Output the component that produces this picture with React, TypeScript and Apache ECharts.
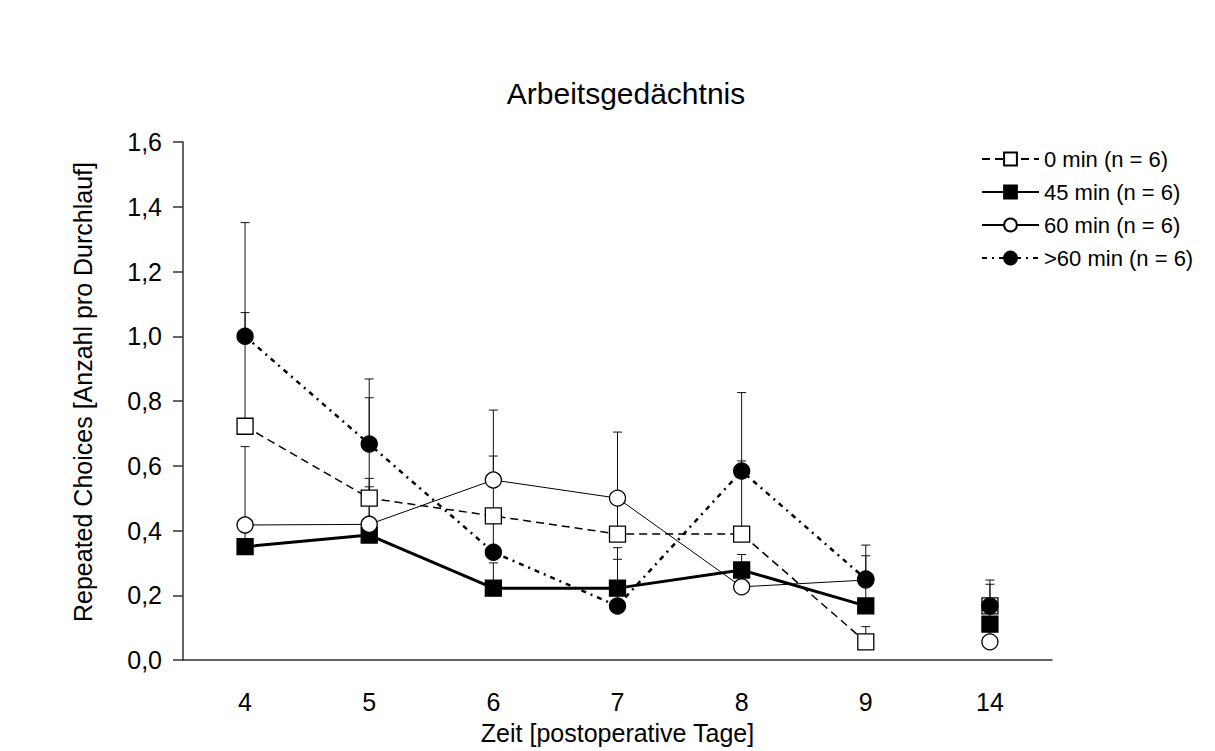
import React, { useEffect, useRef } from "react";
import * as echarts from "echarts";

const days = ["4", "5", "6", "7", "8", "9", "14"];
const yTicks = [0, 0.2, 0.4, 0.6, 0.8, 1.0, 1.2, 1.4, 1.6];

const names = ["0 min (n = 6)", "45 min (n = 6)", "60 min (n = 6)", ">60 min (n = 6)"];

const min0 = [0.722, 0.5, 0.445, 0.389, 0.389, 0.056, 0.167];
const min45 = [0.35, 0.386, 0.222, 0.222, 0.278, 0.167, 0.111];
const min60 = [0.417, 0.419, 0.556, 0.5, 0.226, 0.247, 0.056];
const min60plus = [1.0, 0.667, 0.333, 0.167, 0.584, 0.25, 0.167];

const sem0 = [0.351, 0.31, 0.185, 0.091, 0.226, 0.047, 0.08];
const sem45 = [0.07, 0.149, 0.078, 0.089, 0.048, 0.073, 0.039];
const sem60 = [0.242, 0.142, 0.216, 0.204, 0.044, 0.075, 0.044];
const sem60plus = [0.351, 0.201, 0.097, 0.18, 0.242, 0.105, 0.067];

const FONT = "'Liberation Sans', Arial, Helvetica, sans-serif";

export default function App() {
  const ref = useRef<HTMLDivElement>(null);

  useEffect(() => {
    if (!ref.current) return;
    const chart = echarts.init(ref.current, null, { renderer: "svg" });

    const groups = [
      { name: names[0], values: min0, sem: sem0, symbol: "rect", filled: false, line: { width: 1.5, type: [8, 5] } },
      { name: names[1], values: min45, sem: sem45, symbol: "rect", filled: true, line: { width: 3, type: "solid" } },
      { name: names[2], values: min60, sem: sem60, symbol: "circle", filled: false, line: { width: 1, type: "solid" } },
      { name: names[3], values: min60plus, sem: sem60plus, symbol: "circle", filled: true, line: { width: 2.5, type: [5, 5, 2, 5] } },
    ];

    const errData: number[][] = [];
    groups.forEach((g) => g.values.forEach((v, i) => errData.push([i, v, g.sem[i]])));

    const series: any[] = [
      {
        type: "custom",
        name: "err",
        data: errData,
        encode: { x: 0, y: 1 },
        z: 1,
        silent: true,
        renderItem: (_p: any, api: any) => {
          const x = api.value(0);
          const m = api.value(1);
          const s = api.value(2);
          const p0 = api.coord([x, m]);
          const p1 = api.coord([x, m + s]);
          const w = 4.5;
          return {
            type: "group",
            children: [
              { type: "line", shape: { x1: p0[0], y1: p0[1], x2: p1[0], y2: p1[1] }, style: { stroke: "#111", lineWidth: 1 } },
              { type: "line", shape: { x1: p1[0] - w, y1: p1[1], x2: p1[0] + w, y2: p1[1] }, style: { stroke: "#111", lineWidth: 1 } },
            ],
          };
        },
      },
    ];

    groups.forEach((g) => {
      const itemStyle = { color: g.filled ? "#000" : "#fff", borderColor: "#000", borderWidth: 1.3, opacity: 1 };
      series.push({
        type: "line",
        name: g.name,
        data: g.values.slice(0, 6),
        symbol: g.symbol,
        symbolSize: 16,
        showAllSymbol: true,
        itemStyle,
        lineStyle: { color: "#000", width: g.line.width, type: g.line.type },
        z: 3,
      });
      series.push({
        type: "scatter",
        name: g.name + " (14)",
        data: g.values.map((v, i) => (i === 6 ? v : "-")),
        symbol: g.symbol,
        symbolSize: 16,
        itemStyle,
        z: 3,
      });
    });

    chart.setOption({
      animation: false,
      backgroundColor: "#ffffff",
      textStyle: { fontFamily: FONT },
      grid: { left: 183, right: 163, top: 142, bottom: 91, containLabel: false },
      legend: {
        data: names,
        orient: "vertical",
        left: 976,
        top: 143,
        itemWidth: 57,
        itemHeight: 16,
        itemGap: 11,
        textStyle: { fontSize: 22, color: "#000", fontFamily: FONT },
        selectedMode: false,
      },
      xAxis: {
        type: "category",
        data: days,
        boundaryGap: true,
        axisTick: { show: false },
        axisLine: { lineStyle: { color: "#333", width: 1.5 } },
        axisLabel: { fontSize: 25, color: "#000", margin: 29, fontFamily: FONT },
        name: "Zeit [postoperative Tage]",
        nameLocation: "middle",
        nameGap: 60,
        nameTextStyle: { fontSize: 25, color: "#000", fontFamily: FONT },
        splitLine: { show: false },
      },
      yAxis: {
        type: "value",
        min: 0,
        max: 1.6,
        interval: 0.2,
        axisLine: { show: true, lineStyle: { color: "#333", width: 1.5 } },
        axisTick: { show: true, length: 10, lineStyle: { color: "#333", width: 1.5 } },
        axisLabel: {
          fontSize: 25,
          color: "#000",
          margin: 21,
          fontFamily: FONT,
          formatter: (v: number) => {
            const t = yTicks.find((k) => Math.abs(k - v) < 1e-6);
            return (t !== undefined ? t : v).toFixed(1).replace(".", ",");
          },
        },
        splitLine: { show: false },
      },
      graphic: [
        {
          type: "text",
          x: 626,
          y: 93,
          style: { text: "Arbeitsgedächtnis", x: 0, y: 0, textAlign: "center", textVerticalAlign: "middle", font: `30px ${FONT}`, fill: "#000" },
        },
        {
          type: "text",
          x: 83,
          y: 392,
          rotation: Math.PI / 2,
          style: {
            text: "Repeated Choices [Anzahl pro Durchlauf]",
            x: 0,
            y: 0,
            textAlign: "center",
            textVerticalAlign: "middle",
            font: `25px ${FONT}`,
            fill: "#000",
          },
        },
      ],
      series,
    });

    return () => chart.dispose();
  }, []);

  return <div ref={ref} style={{ position: "fixed", left: 0, top: 0, width: 1215, height: 751 }} />;
}
